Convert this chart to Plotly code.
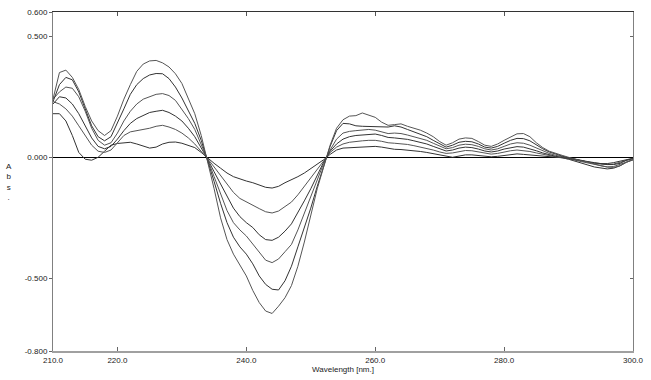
import plotly.graph_objects as go

wavelength = list(range(210, 301))

abs_f = [0.24, 0.35, 0.36, 0.33, 0.28, 0.21, 0.15, 0.11, 0.09, 0.11,
         0.17, 0.24, 0.30, 0.355, 0.385, 0.398, 0.40, 0.39, 0.373, 0.345,
         0.305, 0.245, 0.18, 0.09, -0.015, -0.13, -0.25, -0.34, -0.40, -0.445,
         -0.49, -0.55, -0.60, -0.635, -0.645, -0.615, -0.58, -0.53, -0.45, -0.35,
         -0.24, -0.13, -0.04, 0.05, 0.12, 0.155, 0.17, 0.172, 0.183, 0.175,
         0.165, 0.145, 0.132, 0.135, 0.138, 0.128, 0.12, 0.112, 0.10, 0.085,
         0.065, 0.05, 0.06, 0.075, 0.08, 0.078, 0.065, 0.05, 0.045, 0.055,
         0.07, 0.085, 0.097, 0.098, 0.085, 0.06, 0.04, 0.025, 0.015, 0.008,
         0.0, -0.008, -0.015, -0.02, -0.028, -0.035, -0.04, -0.042, -0.035, -0.02, -0.01]

abs_e = [0.23, 0.30, 0.33, 0.32, 0.27, 0.20, 0.13, 0.085, 0.068, 0.085,
         0.14, 0.20, 0.26, 0.30, 0.325, 0.34, 0.346, 0.345, 0.325, 0.29,
         0.245, 0.195, 0.14, 0.07, -0.012, -0.10, -0.19, -0.27, -0.33, -0.37,
         -0.40, -0.44, -0.49, -0.525, -0.545, -0.548, -0.51, -0.45, -0.37, -0.29,
         -0.21, -0.12, -0.035, 0.045, 0.11, 0.14, 0.138, 0.13, 0.128, 0.127,
         0.128, 0.127, 0.125, 0.13, 0.125, 0.115, 0.105, 0.095, 0.085, 0.07,
         0.055, 0.042, 0.05, 0.062, 0.066, 0.064, 0.055, 0.042, 0.038, 0.045,
         0.058, 0.07, 0.078, 0.077, 0.068, 0.05, 0.035, 0.022, 0.012, 0.005,
         -0.002, -0.008, -0.012, -0.018, -0.022, -0.027, -0.03, -0.03, -0.025, -0.012, -0.005]

abs_d = [0.24, 0.27, 0.29, 0.285, 0.25, 0.19, 0.12, 0.07, 0.05, 0.06,
         0.10, 0.15, 0.19, 0.22, 0.24, 0.25, 0.26, 0.263, 0.255, 0.235,
         0.20, 0.16, 0.115, 0.055, -0.01, -0.08, -0.15, -0.22, -0.27, -0.30,
         -0.325, -0.36, -0.395, -0.425, -0.435, -0.42, -0.39, -0.36, -0.30, -0.23,
         -0.16, -0.09, -0.025, 0.03, 0.075, 0.10, 0.107, 0.11, 0.112, 0.115,
         0.112, 0.105, 0.098, 0.10, 0.098, 0.092, 0.085, 0.078, 0.07, 0.058,
         0.045, 0.035, 0.04, 0.05, 0.054, 0.052, 0.045, 0.035, 0.03, 0.035,
         0.045, 0.055, 0.06, 0.058, 0.05, 0.038, 0.026, 0.016, 0.008, 0.002,
         -0.004, -0.01, -0.015, -0.02, -0.025, -0.028, -0.03, -0.028, -0.02, -0.01, -0.005]

abs_c = [0.22, 0.25, 0.245, 0.22, 0.18, 0.13, 0.08, 0.045, 0.035, 0.045,
         0.075, 0.11, 0.14, 0.16, 0.174, 0.185, 0.19, 0.194, 0.185, 0.17,
         0.15, 0.12, 0.085, 0.04, -0.008, -0.06, -0.11, -0.165, -0.21, -0.245,
         -0.27, -0.29, -0.32, -0.34, -0.343, -0.33, -0.305, -0.275, -0.23, -0.18,
         -0.13, -0.075, -0.02, 0.025, 0.055, 0.075, 0.085, 0.09, 0.093, 0.095,
         0.096, 0.09, 0.082, 0.08, 0.078, 0.074, 0.068, 0.062, 0.055, 0.045,
         0.035, 0.026, 0.03, 0.038, 0.042, 0.04, 0.034, 0.026, 0.022, 0.026,
         0.034, 0.04, 0.044, 0.042, 0.036, 0.027, 0.018, 0.01, 0.004, 0.0,
         -0.005, -0.01, -0.015, -0.02, -0.024, -0.026, -0.026, -0.022, -0.015, -0.008, -0.004]

abs_b = [0.23, 0.22, 0.20, 0.17, 0.13, 0.09, 0.05, 0.025, 0.02, 0.03,
         0.06, 0.09, 0.105, 0.11, 0.112, 0.12, 0.128, 0.132, 0.125, 0.115,
         0.10, 0.08, 0.055, 0.025, -0.006, -0.04, -0.075, -0.11, -0.145, -0.17,
         -0.185, -0.198, -0.212, -0.225, -0.23, -0.222, -0.205, -0.185, -0.155, -0.12,
         -0.085, -0.05, -0.015, 0.02, 0.042, 0.055, 0.062, 0.066, 0.068, 0.07,
         0.07, 0.066, 0.06, 0.058, 0.056, 0.053, 0.048, 0.043, 0.038, 0.03,
         0.022, 0.016, 0.018, 0.024, 0.028, 0.027, 0.022, 0.016, 0.013, 0.016,
         0.022, 0.027, 0.03, 0.028, 0.024, 0.018, 0.012, 0.006, 0.002, -0.002,
         -0.006, -0.012, -0.018, -0.024, -0.03, -0.036, -0.04, -0.038, -0.03, -0.02, -0.01]

abs_a = [0.18, 0.18, 0.15, 0.09, 0.02, -0.008, -0.012, 0.0, 0.025, 0.05,
         0.057, 0.06, 0.062, 0.055, 0.045, 0.038, 0.042, 0.055, 0.062, 0.063,
         0.058, 0.05, 0.04, 0.02, -0.004, -0.025, -0.045, -0.065, -0.08, -0.09,
         -0.098, -0.105, -0.115, -0.124, -0.127, -0.12, -0.105, -0.093, -0.08, -0.065,
         -0.047, -0.03, -0.01, 0.012, 0.03, 0.038, 0.04, 0.042, 0.044, 0.045,
         0.045, 0.042, 0.036, 0.033, 0.032, 0.03, 0.027, 0.024, 0.02, 0.015,
         0.008, 0.002, 0.0, 0.005, 0.01, 0.01, 0.008, 0.004, 0.002, 0.004,
         0.008, 0.012, 0.014, 0.012, 0.01, 0.008, 0.005, 0.002, 0.0, -0.002,
         -0.008, -0.015, -0.024, -0.032, -0.04, -0.045, -0.048, -0.045, -0.035, -0.02, -0.01]

series = [abs_a, abs_b, abs_c, abs_d, abs_e, abs_f]
for s in series:
    assert len(s) == len(wavelength), len(s)

x_tickvals = [210, 220, 240, 260, 280, 300]
x_ticktext = ["210.0", "220.0", "240.0", "260.0", "280.0", "300.0"]
y_tickvals = [0.6, 0.5, 0.0, -0.5, -0.8]
y_ticktext = ["0.600", "0.500", "0.000", "-0.500", "-0.800"]

FONT = "Liberation Sans Narrow, Arial Narrow, Liberation Sans, Arial, sans-serif"
line_colors = ["#333333", "#555555", "#333333", "#555555", "#333333", "#555555"]

fig = go.Figure()
for s, c in zip(series, line_colors):
    fig.add_trace(go.Scatter(x=wavelength, y=s, mode="lines",
                             line=dict(color=c, width=1), showlegend=False,
                             hoverinfo="skip"))
# invisible trace to anchor the top/right mirror axes
fig.add_trace(go.Scatter(x=[210, 300], y=[0.6, -0.8], xaxis="x2", yaxis="y2",
                         mode="markers", marker=dict(opacity=0), showlegend=False,
                         hoverinfo="skip"))

fig.update_layout(
    width=651, height=380,
    margin=dict(l=53, r=18, t=12, b=29, autoexpand=False),
    paper_bgcolor="white", plot_bgcolor="white",
    font=dict(family=FONT, size=8, color="#222222"),
    xaxis=dict(range=[210, 300], tickvals=x_tickvals, ticktext=x_ticktext,
               ticks="inside", ticklen=4, tickcolor="#666666",
               showline=True, linecolor="#a0a0a0", linewidth=2,
               showgrid=False, zeroline=False, tickfont=dict(size=8),
               automargin=False),
    xaxis2=dict(range=[210, 300], overlaying="x", side="top",
                tickvals=[220, 240, 260, 280], ticks="inside", ticklen=4,
                tickcolor="#555555", showticklabels=False,
                showline=True, linecolor="#333333", linewidth=1,
                showgrid=False, zeroline=False, automargin=False),
    yaxis=dict(range=[-0.8, 0.6], tickvals=y_tickvals, ticktext=y_ticktext,
               ticks="outside", ticklen=3, tickcolor="#666666",
               showline=True, linecolor="#808080", linewidth=1,
               showgrid=False, zeroline=True, zerolinecolor="#000000",
               zerolinewidth=1, tickfont=dict(size=8), automargin=False),
    yaxis2=dict(range=[-0.8, 0.6], overlaying="y", side="right",
                tickvals=[0.5, -0.5], ticks="inside", ticklen=3,
                tickcolor="#666666", showticklabels=False,
                showline=True, linecolor="#808080", linewidth=1,
                showgrid=False, zeroline=False, automargin=False),
    annotations=[
        dict(text="Wavelength [nm.]", xref="paper", yref="paper",
             x=0.5, y=-0.056, xanchor="center", yanchor="middle",
             showarrow=False, font=dict(size=8, family=FONT)),
        dict(text="A<br>b<br>s<br>.", xref="paper", yref="paper",
             x=-0.076, y=0.50, xanchor="center", yanchor="middle",
             showarrow=False, font=dict(size=8, family=FONT)),
    ],
)

fig.write_html("out.html",
               config={"displayModeBar": False, "staticPlot": True},
               post_script="document.body.style.margin='0';"
                           "document.body.style.overflow='hidden';")
